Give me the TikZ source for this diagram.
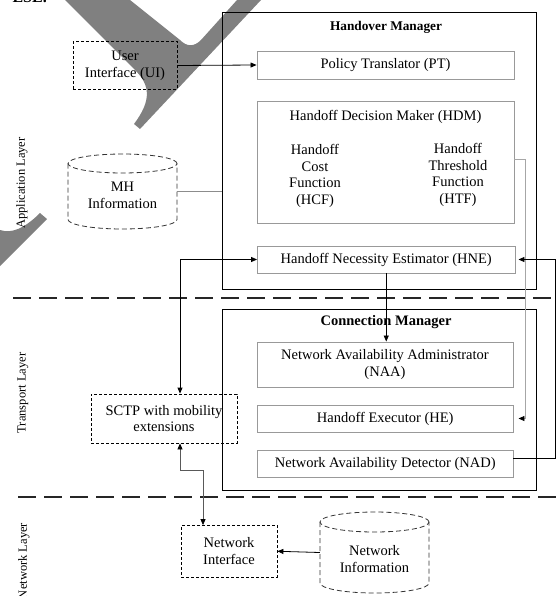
\documentclass[tikz,border=0pt]{standalone}
\usepackage{fontspec}
\setmainfont{Liberation Serif}
\usetikzlibrary{arrows.meta,calc}
\begin{document}
\begin{tikzpicture}[x=1pt,y=-1pt,
  font=\fontsize{14.5}{16.8}\selectfont,
  inbox/.style={draw=black!40, line width=0.9pt, inner sep=0pt, align=center},
  mgr/.style={draw=black, line width=0.9pt, inner sep=0pt},
  dbox/.style={draw=black, line width=0.8pt, dash pattern=on 3pt off 2pt, inner sep=0pt, align=center},
  cyl/.style={draw=black!80, line width=0.8pt, dash pattern=on 5pt off 3pt},
  sepline/.style={draw=black!85, line width=2.8pt, dash pattern=on 18pt off 8pt},
  conn/.style={draw=black, line width=0.8pt},
  arr/.style={-{Triangle[length=6pt,width=5pt,color=black]}},
  arrtwo/.style={{Triangle[length=6pt,width=5pt,color=black]}-{Triangle[length=6pt,width=5pt,color=black]}},
  lbl/.style={align=center, inner sep=0pt},
  ttl/.style={font=\bfseries\fontsize{13.3}{15}\selectfont, inner sep=0pt},
  layer/.style={rotate=90, font=\fontsize{12.5}{14}\selectfont, inner sep=0pt},
  wm/.style={fill=black!50}]
\useasboundingbox (0,0) rectangle (558,596);
\clip (0,0) rectangle (558,596);

% watermark fragments
\fill[wm] (65,0) -- (130,0) -- (180,40) .. controls (187,47) and (194,47) .. (201,40) -- (237,0) -- (261,0)
  -- (140,129) -- (134,124) .. controls (152,100) and (150,85) .. (135,70) -- cycle;
\fill[wm] (40,213) -- (47,219) -- (0,266) -- (0,230) .. controls (12,234) and (25,228) .. (40,213) -- cycle;
\node[font=\bfseries\fontsize{16}{18}\selectfont, anchor=base east, inner sep=0pt] (frag) at (47,2.5) {ESE.};

% layer separators
\draw[sepline] (13,298) -- (558,298);
\draw[sepline] (18,497) -- (558,497);

% layer labels
\node[layer] (applayer) at (22,183) {Application Layer};
\node[layer] (translayer) at (23,393) {Transport Layer};
\node[layer] (netlayer) at (24,561) {Network Layer};

% Handover Manager
\node[mgr, minimum width=313.5pt, minimum height=277pt] (hm) at (379.25,150.5) {};
\node[ttl] (hmtitle) at (386,27) {Handover Manager};
\node[inbox, minimum width=257pt, minimum height=28pt] (pt) at (385.5,65) {Policy Translator (PT)};
\node[inbox, minimum width=257pt, minimum height=122pt] (hdm) at (385.5,162) {};
\node[lbl] (hdmtitle) at (385.5,117) {Handoff Decision Maker (HDM)};
\node[lbl] (hcf) at (315,176) {Handoff\\Cost\\Function\\(HCF)};
\node[lbl] (htf) at (458,175) {Handoff\\Threshold\\Function\\(HTF)};
\node[inbox, minimum width=257.5pt, minimum height=27pt] (hne) at (386.25,259.5) {Handoff Necessity Estimator (HNE)};

% Connection Manager
\node[mgr, minimum width=313.5pt, minimum height=181pt] (cm) at (379.25,399.5) {};
\node[ttl, font=\bfseries\fontsize{14.5}{16}\selectfont] (cmtitle) at (386,322) {Connection Manager};
\node[inbox, minimum width=256pt, minimum height=45pt] (naa) at (385,364.5) {Network Availability Administrator\\(NAA)};
\node[inbox, minimum width=255.5pt, minimum height=27pt] (he) at (385.25,418.5) {Handoff Executor (HE)};
\node[inbox, minimum width=255.5pt, minimum height=26.5pt] (nad) at (385.25,464) {Network Availability Detector (NAD)};

% dashed boxes
\node[dbox, minimum width=104pt, minimum height=47.5pt] (ui) at (125,65.5) {User\\Interface (UI)};
\node[dbox, minimum width=146pt, minimum height=49pt] (sctp) at (164,418.5) {SCTP with mobility\\extensions};
\node[dbox, minimum width=96pt, minimum height=51.5pt] (ni) at (229,551.25) {Network\\Interface};

% MH Information cylinder
\node[inner sep=0pt, minimum width=109pt, minimum height=75pt] (mh) at (122.5,191.5) {};
\draw[cyl] (122.5,163.5) ellipse [x radius=54.5pt, y radius=9.5pt];
\draw[cyl] (68,163.5) -- (68,219.5) arc[start angle=180, end angle=360, x radius=54.5pt, y radius=9.5pt] -- (177,163.5);
\node[lbl] (mhtext) at (122.5,195) {MH\\Information};

% Network Information cylinder
\node[inner sep=0pt, minimum width=109pt, minimum height=81pt] (netinfo) at (374.5,552.5) {};
\draw[cyl] (374.5,522) ellipse [x radius=54.5pt, y radius=10pt];
\draw[cyl] (320,522) -- (320,583) arc[start angle=180, end angle=360, x radius=54.5pt, y radius=10pt] -- (429,522);
\node[lbl] (netinfotext) at (374.5,559) {Network\\Information};

% connectors
\draw[conn, arr] (ui.east) -- (pt.west);
\draw[conn, draw=black!45] (mh.east) -- (mh.east -| hm.west);
\coordinate (c1) at (180,259.5);
\draw[conn, arrtwo] (hne.west) -- (c1) -- (c1 |- sctp.north);
\coordinate (c2) at (180,470);
\coordinate (c3) at (203,470);
\draw[conn, draw=black!65, arrtwo] (c2 |- sctp.south) -- (c2) -- (c3) -- (c3 |- ni.north);
\draw[conn, arr] (hne.south) -- (hne.south |- naa.north);
\coordinate (g1) at (525,159);
\draw[conn, draw=black!35, arr, shorten >=5pt] (hdm.east |- g1) -- (g1) -- (g1 |- he.east) -- (he.east);
\coordinate (r1) at (555,458);
\draw[conn, arr, shorten >=3pt] (nad.east |- r1) -- (r1) -- (r1 |- hne.east) -- (hne.east);
\draw[conn, arr] (netinfo.west) -- (ni.east);
\end{tikzpicture}
\end{document}
